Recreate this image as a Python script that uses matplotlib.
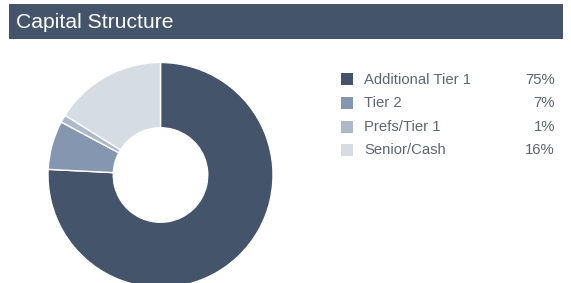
import matplotlib
matplotlib.use("Agg")
import matplotlib.pyplot as plt
from matplotlib.patches import Rectangle

categories = ["Additional Tier 1", "Tier 2", "Prefs/Tier 1", "Senior/Cash"]
values = [75.8, 7.0, 1.1, 16.1]
pct_labels = ["75%", "7%", "1%", "16%"]
colors = ["#44546A", "#8496B0", "#ADB9CA", "#D6DCE4"]
title = "Capital Structure"

W, H = 571, 283
fig = plt.figure(figsize=(W / 100, H / 100), dpi=100)
fig.patch.set_facecolor("white")
plt.rcParams['font.family'] = ['Liberation Sans', 'DejaVu Sans']

def fx(x): return x / W
def fy(y): return 1 - y / H

# title bar
fig.patches.append(Rectangle((fx(9), fy(39)), fx(563) - fx(9), fy(4) - fy(39),
                             transform=fig.transFigure, facecolor="#44546A",
                             edgecolor="none", zorder=0))
fig.text(fx(16), fy(22), title, color="white", fontsize=15.2, va="center", ha="left")

# donut
cx, cy, R = 160.5, 175.0, 112.5
ax = fig.add_axes([fx(cx - R), fy(cy + R), 2 * R / W, 2 * R / H])
ax.pie(values, colors=colors, startangle=90, counterclock=False, radius=1,
       wedgeprops=dict(width=0.58, edgecolor="white", linewidth=1.0))
ax.set_xlim(-1, 1)
ax.set_ylim(-1, 1)
ax.set_aspect("auto")
ax.axis("off")

# legend
row_y = [79.5, 103, 126.5, 150]
for cat, pl, col, y in zip(categories, pct_labels, colors, row_y):
    fig.patches.append(Rectangle((fx(341), fy(y + 6)), 12 / W, 12 / H,
                                 transform=fig.transFigure, facecolor=col,
                                 edgecolor="none"))
    fig.text(fx(364), fy(y), cat, color="#5E6676", fontsize=10.7, va="center", ha="left")
    fig.text(fx(555), fy(y), pl, color="#5E6676", fontsize=10.7, va="center", ha="right")

fig.savefig("out.png", dpi=100, facecolor="white")
